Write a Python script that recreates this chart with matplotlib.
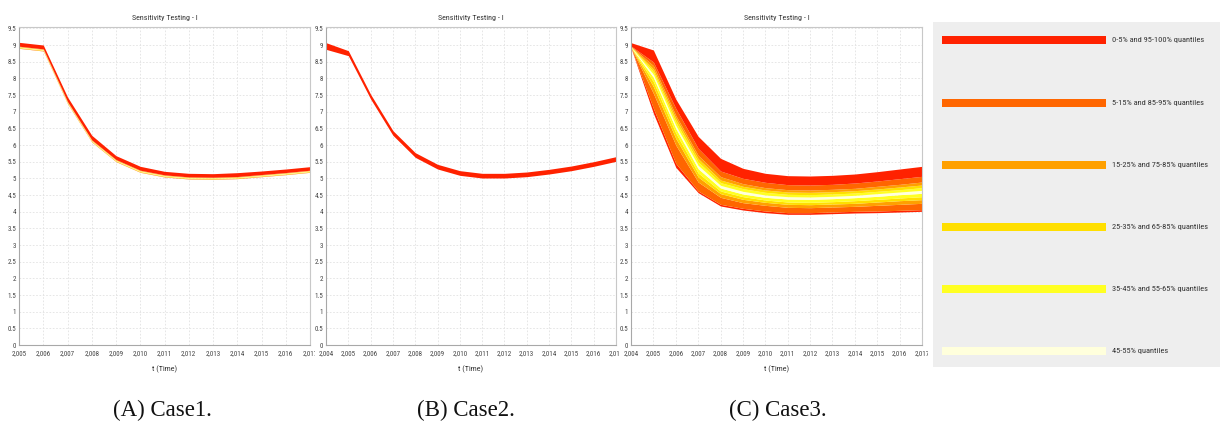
import matplotlib
matplotlib.use("Agg")
import matplotlib.pyplot as plt
from matplotlib import font_manager
from matplotlib.font_manager import FontProperties
from matplotlib.patches import Rectangle
from matplotlib.transforms import Bbox, TransformedBbox

W, H = 1223, 426

# ---- data -------------------------------------------------------------
years_a = [2005, 2006, 2007, 2008, 2009, 2010, 2011, 2012, 2013, 2014, 2015, 2016, 2017]
years_bc = [2004, 2005, 2006, 2007, 2008, 2009, 2010, 2011, 2012, 2013, 2014, 2015, 2016, 2017]

# Case 1: outer envelope and offsets of the inner quantiles above the lower edge
a_top = [9.08, 9.00, 7.44, 6.29, 5.68, 5.36, 5.21, 5.15, 5.14, 5.17, 5.22, 5.28, 5.35]
a_bottom = [8.90, 8.82, 7.24, 6.09, 5.50, 5.18, 5.04, 4.98, 4.97, 4.99, 5.05, 5.11, 5.18]
a_inner_offsets = [0.0, 0.008, 0.016, 0.024, 0.032, 0.040, 0.046, 0.052, 0.058, 0.064]

# Case 2: narrow envelope (all inner quantiles sit on the lower edge)
b_top = [9.07, 8.83, 7.52, 6.43, 5.77, 5.42, 5.23, 5.15, 5.15, 5.19, 5.27, 5.37, 5.50, 5.65]
b_bottom = [8.87, 8.68, 7.38, 6.29, 5.63, 5.28, 5.09, 5.01, 5.01, 5.05, 5.13, 5.23, 5.36, 5.51]
b_inner_offsets = [0.0, 0.0, 0.0, 0.0, 0.0, 0.0, 0.0, 0.0, 0.0, 0.0]

# Case 3: full quantile fan
c_q0 = [8.91, 6.95, 5.33, 4.57, 4.17, 4.05, 3.97, 3.92, 3.92, 3.94, 3.96, 3.97, 3.99, 4.01]
c_q5 = [8.92, 7.10, 5.45, 4.62, 4.22, 4.10, 4.02, 3.97, 3.97, 3.99, 4.01, 4.02, 4.04, 4.06]
c_q15 = [8.925, 7.55, 6.00, 4.89, 4.43, 4.27, 4.19, 4.13, 4.12, 4.14, 4.16, 4.19, 4.22, 4.25]
c_q25 = [8.93, 7.75, 6.20, 5.04, 4.54, 4.37, 4.28, 4.22, 4.21, 4.23, 4.25, 4.29, 4.33, 4.36]
c_q35 = [8.935, 7.90, 6.36, 5.16, 4.62, 4.45, 4.35, 4.29, 4.28, 4.30, 4.33, 4.37, 4.41, 4.45]
c_q45 = [8.94, 8.03, 6.50, 5.29, 4.71, 4.53, 4.43, 4.38, 4.37, 4.39, 4.42, 4.46, 4.51, 4.55]
c_q55 = [8.945, 8.12, 6.59, 5.39, 4.79, 4.61, 4.50, 4.45, 4.44, 4.46, 4.49, 4.54, 4.59, 4.64]
c_q65 = [8.95, 8.20, 6.69, 5.49, 4.87, 4.69, 4.58, 4.52, 4.51, 4.53, 4.56, 4.61, 4.66, 4.72]
c_q75 = [8.955, 8.28, 6.80, 5.59, 4.95, 4.76, 4.65, 4.59, 4.58, 4.60, 4.63, 4.68, 4.74, 4.80]
c_q85 = [8.96, 8.38, 6.89, 5.69, 5.05, 4.84, 4.72, 4.66, 4.65, 4.67, 4.70, 4.76, 4.82, 4.89]
c_q95 = [8.97, 8.49, 7.10, 5.90, 5.22, 5.00, 4.88, 4.81, 4.80, 4.82, 4.86, 4.92, 4.99, 5.06]
c_q100 = [9.07, 8.85, 7.38, 6.26, 5.60, 5.30, 5.15, 5.08, 5.07, 5.09, 5.13, 5.20, 5.28, 5.36]

band_labels = [
    "0-5% and 95-100% quantiles",
    "5-15% and 85-95% quantiles",
    "15-25% and 75-85% quantiles",
    "25-35% and 65-85% quantiles",
    "35-45% and 55-65% quantiles",
    "45-55% quantiles",
]
band_colors = ["#FF2200", "#FF6600", "#FFA000", "#FFDF00", "#FFFF22", "#FFFFDC"]

captions = ["(A) Case1.", "(B) Case2.", "(C) Case3."]
title_text = "Sensitivity Testing - I"
xlabel_text = "t (Time)"
y_ticks = [0, 0.5, 1, 1.5, 2, 2.5, 3, 3.5, 4, 4.5, 5, 5.5, 6, 6.5, 7, 7.5, 8, 8.5, 9, 9.5]


# ---- a narrow sans face for the small chart text, if one is installed ---
def find_narrow_font():
    cands = []
    for f in font_manager.fontManager.ttflist:
        nm = f.name.lower()
        narrowish = ("condensed" in nm or "narrow" in nm
                     or str(f.stretch) in ("condensed", "semi-condensed", "extra-condensed",
                                           "ultra-condensed"))
        if not narrowish:
            continue
        if str(f.style) != "normal":
            continue
        w = f.weight if isinstance(f.weight, int) else 400
        if w not in (400, "normal", "regular"):
            continue
        if "mono" in nm or "serif" in nm and "sans" not in nm:
            continue
        cands.append(f)
    pref = ["liberation sans narrow", "roboto condensed", "noto sans", "open sans",
            "dejavu sans", "lato"]
    for p in pref:
        for f in cands:
            if f.name.lower().startswith(p):
                return f.fname
    return cands[0].fname if cands else None


narrow_path = find_narrow_font()


def small_font(size):
    if narrow_path:
        return FontProperties(fname=narrow_path, size=size)
    return FontProperties(family="DejaVu Sans", size=size * 0.85)


quantile_rows = lambda top, bottom, offsets: (
    [bottom] + [[b + off for b in bottom] for off in offsets] + [top])

rows_a = quantile_rows(a_top, a_bottom, a_inner_offsets)
rows_b = quantile_rows(b_top, b_bottom, b_inner_offsets)
rows_c = [c_q0, c_q5, c_q15, c_q25, c_q35, c_q45, c_q55, c_q65, c_q75, c_q85, c_q95, c_q100]

# layer i spans rows[i]..rows[i+1]; colour index mirrors around the median
layer_color_idx = [0, 1, 2, 3, 4, 5, 4, 3, 2, 1, 0]

fig = plt.figure(figsize=(W / 100, H / 100), dpi=100)
fig.patch.set_facecolor("white")


def px_axes(l, t, r, b):
    return fig.add_axes([l / W, 1 - b / H, (r - l) / W, (b - t) / H])


def clip_to(artist, x0, x1):
    box = TransformedBbox(Bbox.from_extents(x0 / W, 0, x1 / W, 1), fig.transFigure)
    artist.set_clip_box(box)
    artist.set_clip_on(True)


panels = [
    (years_a, rows_a, (19, 27, 310, 345), (0, 315)),
    (years_bc, rows_b, (326, 27, 616, 345), (315, 620)),
    (years_bc, rows_c, (631, 27, 922, 345), (620, 928)),
]

for years, rows, (l, t, r, b), (cx0, cx1) in panels:
    ax = px_axes(l, t, r, b)
    ax.set_facecolor("white")
    for i in range(len(rows) - 1):
        lo, hi = rows[i], rows[i + 1]
        if all(abs(h - q) < 1e-9 for h, q in zip(hi, lo)):
            continue
        ax.fill_between(years, lo, hi, color=band_colors[layer_color_idx[i]],
                        linewidth=0, zorder=2)
    ax.set_xlim(years[0], years[-1])
    ax.set_ylim(0, 9.54)
    ax.set_xticks(years)
    ax.set_xticklabels([f"{y:,}" for y in years])
    ax.set_yticks(y_ticks)
    ax.set_yticklabels([f"{v:g}" for v in y_ticks])
    ax.grid(True, color="#e2e2e2", linestyle=(0, (2, 2)), linewidth=0.6, zorder=0)
    ax.set_axisbelow(True)
    for name, sp in ax.spines.items():
        sp.set_color("#c8c8c8" if name in ("top", "right") else "#a8a8a8")
        sp.set_linewidth(0.8)
    ax.tick_params(axis="both", length=0, labelcolor="#444444")
    ax.tick_params(axis="x", pad=4)
    ax.tick_params(axis="y", pad=2)
    for lab in ax.get_xticklabels() + ax.get_yticklabels():
        lab.set_fontproperties(small_font(5.0))
        clip_to(lab, cx0, cx1)
    cxm = (l + r) / 2
    fig.text(cxm / W, 1 - 18 / H, title_text, ha="center", va="center",
             color="#333333", fontproperties=small_font(5.8))
    fig.text(cxm / W, 1 - 369 / H, xlabel_text, ha="center", va="center",
             color="#333333", fontproperties=small_font(5.8))

# caption under each panel
for cap, cxp in zip(captions, [162, 466, 778]):
    fig.text(cxp / W, 1 - 410 / H, cap, ha="center", va="center",
             fontsize=16.5, family=["Liberation Serif", "DejaVu Serif"], color="#111111")

# legend box
fig.patches.append(Rectangle((933 / W, 1 - 367 / H), (1220 - 933) / W, (367 - 22) / H,
                             transform=fig.transFigure, facecolor="#EEEEEE",
                             edgecolor="none", zorder=0))
legend_y = [40, 103, 165, 227, 289, 351]
for label, col, yy in zip(band_labels, band_colors, legend_y):
    fig.patches.append(Rectangle((942 / W, 1 - (yy + 4) / H), (1106 - 942) / W, 8 / H,
                                 transform=fig.transFigure, facecolor=col,
                                 edgecolor="none", zorder=1))
    fig.text(1112 / W, 1 - yy / H, label, ha="left", va="center",
             color="#333333", fontproperties=small_font(6.0))

fig.savefig("out.png", dpi=100)
